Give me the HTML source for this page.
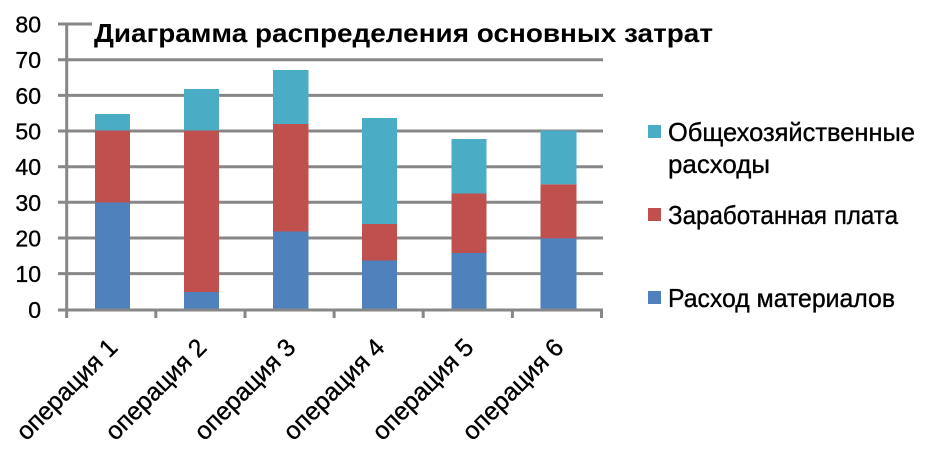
<!DOCTYPE html>
<html>
<head>
<meta charset="utf-8">
<style>
  html,body{margin:0;padding:0;background:#fff;}
  svg{display:block;}
  text{font-family:"Liberation Sans","Noto Sans CJK SC",sans-serif;fill:#000;}
  .t{stroke:#000;stroke-width:0.35px;}
</style>
</head>
<body>
<svg width="931" height="455" viewBox="0 0 931 455" xmlns="http://www.w3.org/2000/svg">
  <rect x="0" y="0" width="931" height="455" fill="#fff"/>

  <!-- gridlines -->
  <g stroke="#878787" stroke-width="3">
    <line x1="58" y1="273.6" x2="603" y2="273.6"/>
    <line x1="58" y1="238" x2="603" y2="238"/>
    <line x1="58" y1="202.3" x2="603" y2="202.3"/>
    <line x1="58" y1="166.7" x2="603" y2="166.7"/>
    <line x1="58" y1="131" x2="603" y2="131"/>
    <line x1="58" y1="95.4" x2="603" y2="95.4"/>
    <line x1="58" y1="59.7" x2="603" y2="59.7"/>
    <line x1="58" y1="24" x2="92" y2="24"/>
  </g>

  <!-- bars -->
  <g>
    <rect x="95" y="202.5" width="35" height="107" fill="#4F81BD"/>
    <rect x="95" y="130.5" width="35" height="72" fill="#C0504D"/>
    <rect x="95" y="114" width="35" height="16.5" fill="#4BACC6"/>

    <rect x="184" y="292" width="35" height="17.5" fill="#4F81BD"/>
    <rect x="184" y="130.5" width="35" height="161.5" fill="#C0504D"/>
    <rect x="184" y="89" width="35" height="41.5" fill="#4BACC6"/>

    <rect x="273" y="231.5" width="35.5" height="78" fill="#4F81BD"/>
    <rect x="273" y="124" width="35.5" height="107.5" fill="#C0504D"/>
    <rect x="273" y="70" width="35.5" height="54" fill="#4BACC6"/>

    <rect x="362" y="260.5" width="35" height="49" fill="#4F81BD"/>
    <rect x="362" y="224" width="35" height="36.5" fill="#C0504D"/>
    <rect x="362" y="118" width="35" height="106" fill="#4BACC6"/>

    <rect x="451.5" y="253" width="35" height="56.5" fill="#4F81BD"/>
    <rect x="451.5" y="193.5" width="35" height="59.5" fill="#C0504D"/>
    <rect x="451.5" y="139" width="35" height="54.5" fill="#4BACC6"/>

    <rect x="540.5" y="238.3" width="36" height="71.2" fill="#4F81BD"/>
    <rect x="540.5" y="184.3" width="36" height="54" fill="#C0504D"/>
    <rect x="540.5" y="130.5" width="36" height="53.8" fill="#4BACC6"/>
  </g>

  <!-- axes -->
  <g stroke="#878787" stroke-width="3">
    <line x1="66.7" y1="24" x2="66.7" y2="318"/>
    <line x1="58" y1="310" x2="603" y2="310"/>
    <line x1="155.8" y1="310" x2="155.8" y2="318"/>
    <line x1="245" y1="310" x2="245" y2="318"/>
    <line x1="334.1" y1="310" x2="334.1" y2="318"/>
    <line x1="423.2" y1="310" x2="423.2" y2="318"/>
    <line x1="512.4" y1="310" x2="512.4" y2="318"/>
    <line x1="601.5" y1="310" x2="601.5" y2="318"/>
  </g>

  <!-- y labels -->
  <g font-size="23" text-anchor="end" class="t">
    <text x="41" y="318">0</text>
    <text x="41" y="282">10</text>
    <text x="41" y="246.5">20</text>
    <text x="41" y="210.8">30</text>
    <text x="41" y="175.2">40</text>
    <text x="41" y="139.5">50</text>
    <text x="41" y="103.9">60</text>
    <text x="41" y="68.2">70</text>
    <text x="41" y="32.5">80</text>
  </g>

  <!-- title -->
  <rect x="92" y="8" width="630" height="44" fill="#fff"/>
  <text x="94" y="42" font-size="26" font-weight="bold" textLength="619" lengthAdjust="spacingAndGlyphs">Диаграмма распределения основных затрат</text>

  <!-- x labels -->
  <g font-size="25" text-anchor="end" class="t">
    <text transform="translate(119,349) rotate(-45)" textLength="131" lengthAdjust="spacingAndGlyphs">операция 1</text>
    <text transform="translate(208,349) rotate(-45)" textLength="131" lengthAdjust="spacingAndGlyphs">операция 2</text>
    <text transform="translate(297,349) rotate(-45)" textLength="131" lengthAdjust="spacingAndGlyphs">операция 3</text>
    <text transform="translate(386,349) rotate(-45)" textLength="131" lengthAdjust="spacingAndGlyphs">операция 4</text>
    <text transform="translate(475,349) rotate(-45)" textLength="131" lengthAdjust="spacingAndGlyphs">операция 5</text>
    <text transform="translate(565,349) rotate(-45)" textLength="131" lengthAdjust="spacingAndGlyphs">операция 6</text>
  </g>

  <!-- legend -->
  <rect x="648" y="125" width="13" height="13" fill="#4BACC6"/>
  <text class="t" x="668" y="141" font-size="26" textLength="247" lengthAdjust="spacingAndGlyphs">Общехозяйственные</text>
  <text class="t" x="668" y="173" font-size="26" textLength="102" lengthAdjust="spacingAndGlyphs">расходы</text>
  <rect x="648" y="208" width="13" height="13" fill="#C0504D"/>
  <text class="t" x="668" y="224" font-size="26" textLength="230" lengthAdjust="spacingAndGlyphs">Заработанная плата</text>
  <rect x="648" y="291" width="13" height="13" fill="#4F81BD"/>
  <text class="t" x="668" y="307" font-size="26" textLength="227" lengthAdjust="spacingAndGlyphs">Расход материалов</text>
</svg>
</body>
</html>
